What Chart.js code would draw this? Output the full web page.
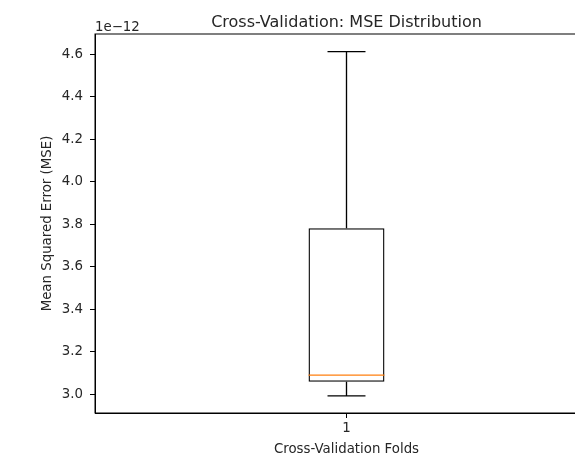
<!DOCTYPE html>
<html>
<head>
<meta charset="utf-8">
<script src="https://cdn.jsdelivr.net/npm/chart.js@4.4.1/dist/chart.umd.min.js"></script>
<style>
  html, body { margin: 0; padding: 0; background: #fff; overflow: hidden; }
  #wrap { width: 600px; height: 456px; }
</style>
</head>
<body>
<div id="wrap"><canvas id="cv" width="600" height="456"></canvas></div>
<script>
// values are in units of 1e-12 (shown as the axis offset text)
const folds = ['1'];
const whiskerLow = [2.993];
const q1 = [3.059];
const median = [3.090];
const q3 = [3.782];
const whiskerHigh = [4.613];
const yTicks = [3.0, 3.2, 3.4, 3.6, 3.8, 4.0, 4.2, 4.4, 4.6];
const yMin = 2.912;
const yMax = 4.696;

const FONT = "'DejaVu Sans', sans-serif";
const LW = 1.33;

// whiskers, caps and median line, placed with the chart's scales
const boxExtras = {
    id: 'boxExtras',
    afterDatasetsDraw(chart) {
        const ctx = chart.ctx;
        const xs = chart.scales.x, ys = chart.scales.y;
        const bars = chart.getDatasetMeta(0).data;
        ctx.save();
        bars.forEach((bar, i) => {
            const cx = xs.getPixelForValue(i);
            const half = bar.width / 2;
            const cap = half / 2;
            ctx.lineWidth = LW;
            ctx.strokeStyle = '#000';
            ctx.beginPath();
            ctx.moveTo(cx, ys.getPixelForValue(q1[i]));
            ctx.lineTo(cx, ys.getPixelForValue(whiskerLow[i]));
            ctx.moveTo(cx, ys.getPixelForValue(q3[i]));
            ctx.lineTo(cx, ys.getPixelForValue(whiskerHigh[i]));
            ctx.moveTo(cx - cap, ys.getPixelForValue(whiskerLow[i]));
            ctx.lineTo(cx + cap, ys.getPixelForValue(whiskerLow[i]));
            ctx.moveTo(cx - cap, ys.getPixelForValue(whiskerHigh[i]));
            ctx.lineTo(cx + cap, ys.getPixelForValue(whiskerHigh[i]));
            ctx.stroke();
            ctx.strokeStyle = '#ff7f0e';
            ctx.beginPath();
            ctx.moveTo(cx - half, ys.getPixelForValue(median[i]));
            ctx.lineTo(cx + half, ys.getPixelForValue(median[i]));
            ctx.stroke();
        });
        ctx.restore();
    }
};

// frame and texts in matplotlib style
const frameAndText = {
    id: 'frameAndText',
    afterDraw(chart) {
        const ctx = chart.ctx;
        const a = chart.chartArea;
        const mid = (a.left + a.right) / 2;
        ctx.save();
        ctx.strokeStyle = '#000';
        ctx.lineWidth = 1;
        ctx.strokeRect(a.left, a.top, a.right - a.left, a.bottom - a.top);
        ctx.fillStyle = '#262626';
        ctx.textAlign = 'center';
        ctx.textBaseline = 'alphabetic';
        ctx.font = '16px ' + FONT;
        ctx.fillText('Cross-Validation: MSE Distribution', mid, 27);
        ctx.font = '13.33px ' + FONT;
        ctx.fillText('Cross-Validation Folds', mid, 453);
        ctx.textAlign = 'left';
        ctx.fillText('1e\u221212', a.left, 31);
        ctx.translate(48, (a.top + a.bottom) / 2);
        ctx.rotate(-Math.PI / 2);
        ctx.textAlign = 'center';
        ctx.textBaseline = 'middle';
        ctx.fillText('Mean Squared Error (MSE)', 0, 0);
        ctx.restore();
    }
};

const data = {
    labels: folds,
    datasets: [{
        label: 'MSE',
        data: folds.map((f, i) => [q1[i], q3[i]]),
        backgroundColor: 'rgba(0,0,0,0)',
        borderColor: '#000',
        borderWidth: LW,
        borderSkipped: false,
        barPercentage: 1,
        categoryPercentage: 0.151,
    }],
};

const config = {
    type: 'bar',
    data: data,
    options: {
        responsive: false,
        animation: false,
        layout: { padding: { top: 34, right: 2, left: 0, bottom: 0 } },
        plugins: {
            legend: { display: false },
            title: { display: false },
            tooltip: { enabled: false },
        },
        scales: {
            x: {
                grid: { offset: false, drawOnChartArea: false, drawTicks: true, tickLength: 5, color: '#000' },
                border: { display: true, color: '#000', width: 1 },
                ticks: { color: '#262626', font: { family: FONT, size: 13.33 }, padding: 3 },
                afterFit(scale) { scale.height = 43; },
            },
            y: {
                min: yMin,
                max: yMax,
                grid: { drawOnChartArea: false, drawTicks: true, tickLength: 5, color: '#000' },
                border: { display: true, color: '#000', width: 1 },
                ticks: {
                    color: '#262626',
                    font: { family: FONT, size: 13.33 },
                    padding: 7,
                    callback: v => v.toFixed(1),
                },
                afterBuildTicks(scale) { scale.ticks = yTicks.map(v => ({ value: v })); },
                afterFit(scale) { scale.width = 95; },
            },
        },
    },
    plugins: [boxExtras, frameAndText],
};

const ctx = document.getElementById('cv').getContext('2d');
const myChart = new Chart(ctx, config);
</script>
</body>
</html>
